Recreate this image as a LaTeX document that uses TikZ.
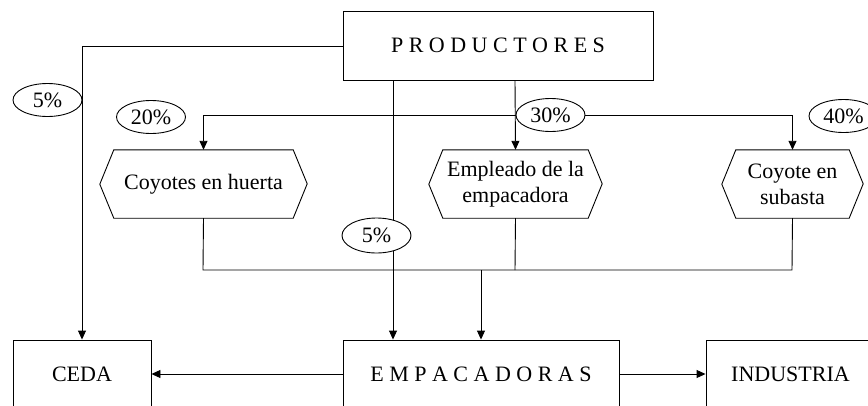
\documentclass[tikz,border=0pt]{standalone}
\usepackage{fontspec}
\setmainfont{Liberation Serif}
\usetikzlibrary{arrows.meta,shapes.geometric}
\begin{document}
\begin{tikzpicture}[x=1pt,y=-1pt,
  every node/.style={font=\fontsize{22}{26}\selectfont, inner sep=0pt},
  box/.style={draw, line width=0.9pt, rectangle, minimum height=68pt},
  hexa/.style={rectangle, minimum height=68pt, align=center},
  pct/.style={draw, line width=0.9pt, ellipse, fill=white, minimum width=69pt, minimum height=33pt},
  conn/.style={line width=0.9pt},
  arr/.style={conn, -{Triangle[length=9pt,width=8pt]}}
]
\useasboundingbox (0,0) rectangle (868,405);
\clip (0,0) rectangle (868,405);

% boxes
\node[box, minimum width=310pt, minimum height=69pt] (prod) at (498,45.5) {P R O D U C T O R E S};
\node[box, minimum width=138pt] (ceda) at (82,374) {CEDA};
\node[box, minimum width=276pt] (emp) at (481,374) {E M P A C A D O R A S};
\node[box, minimum width=169pt] (ind) at (790.5,374) {INDUSTRIA};

% hexagons
\node[hexa, minimum width=179pt] (coy) at (203.5,184) {Coyotes en huerta};
\node[hexa, minimum width=145pt] (empl) at (515.5,184) {Empleado de la\\empacadora};
\node[hexa, minimum width=113pt] (sub) at (792.5,184) {Coyote en\\subasta};
\foreach \n in {coy,empl,sub}{
  \draw[conn, line join=miter] (\n.north west) -- (\n.north east) -- ++(14,34) -- (\n.south east)
     -- (\n.south west) -- ++(-14,-34) -- cycle;
}

% coordinates
\coordinate (c1) at (82,46);
\coordinate (j1) at (515,115);
\coordinate (b1) at (203,270);
\coordinate (b2) at (792,270);
\coordinate (b3) at (515,270);
\coordinate (b4) at (481,270);

% connectors
\draw[arr] (prod.west |- c1) -- (c1) -- (ceda.north);
\draw[arr] (prod.south -| j1) -- (empl.north);
\draw[arr] (j1) -| (coy.north);
\draw[arr] (j1) -| (sub.north);
\draw[arr] (prod.south -| 393,0) -- (emp.north -| 393,0);
\draw[conn] (coy.south) -- (b1) -- (b2) -- (sub.south);
\draw[conn] (empl.south) -- (b3);
\draw[arr] (b4) -- (emp.north -| b4);
\draw[arr] (emp.west) -- (ceda.east);
\draw[arr] (emp.east) -- (ind.west);

% percentage labels
\node[pct] (p1) at (47.5,100) {5\%};
\node[pct] (p2) at (151,117) {20\%};
\node[pct] (p3) at (550.5,115) {30\%};
\node[pct] (p4) at (843.5,116) {40\%};
\node[pct, minimum height=35pt] (p5) at (376.5,235.5) {5\%};
\end{tikzpicture}
\end{document}
